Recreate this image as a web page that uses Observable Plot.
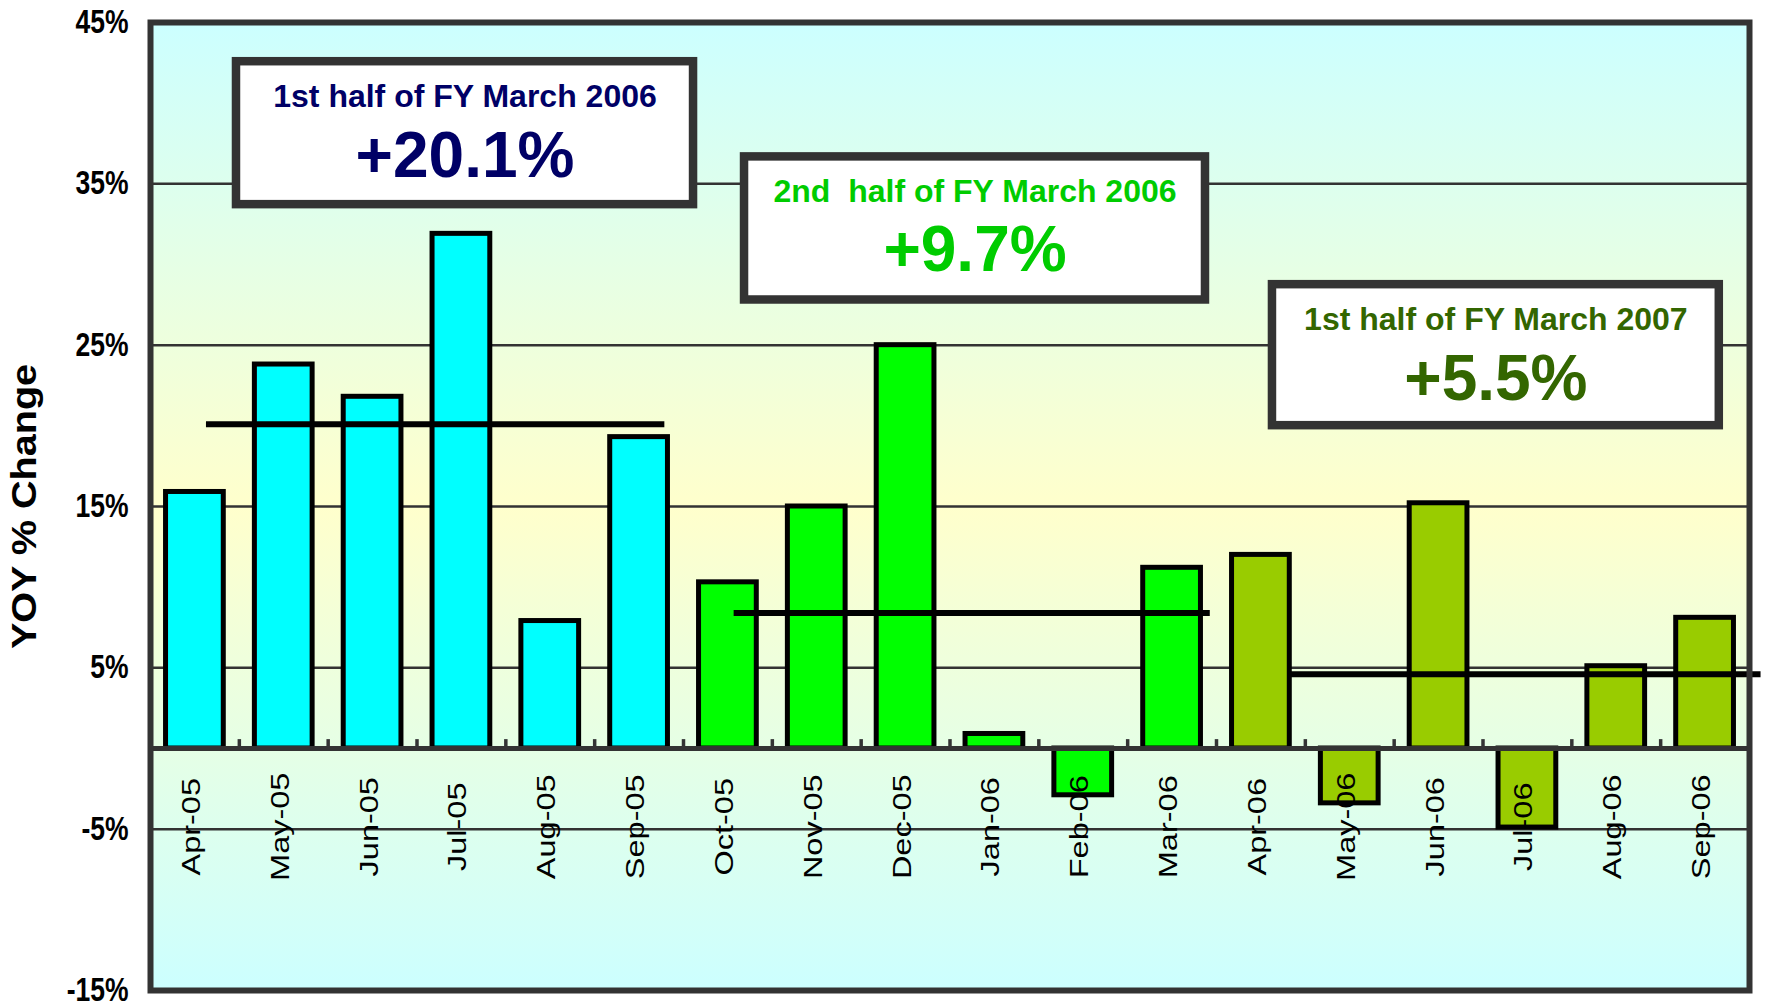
<!DOCTYPE html>
<html><head><meta charset="utf-8">
<script src="https://cdn.jsdelivr.net/npm/d3@7"></script>
<script src="https://cdn.jsdelivr.net/npm/@observablehq/plot@0.6"></script>
<style>
html,body{margin:0;padding:0;background:#fff;}
svg text{white-space:pre;}
</style></head><body><div id="chart"></div>
<script>
// ---- data ----
const months = ["Apr-05","May-05","Jun-05","Jul-05","Aug-05","Sep-05","Oct-05","Nov-05","Dec-05","Jan-06","Feb-06","Mar-06","Apr-06","May-06","Jun-06","Jul-06","Aug-06","Sep-06"];
const yoy = [15.9, 23.8, 21.8, 31.9, 7.9, 19.3, 10.3, 15.0, 25.0, 0.9, -2.9, 11.2, 12.0, -3.4, 15.2, -4.9, 5.1, 8.1];
const halfOf = [0,0,0,0,0,0,1,1,1,1,1,1,2,2,2,2,2,2];
const halfColors = ["#00FFFF", "#00FF00", "#99CC00"];
const avgLevel = [20.1, 8.4, 4.6];
const avgStart = [0.63, 6.57, 12.80];
const avgEnd = [5.79, 11.93, 18.13];
const boxTitles = ["1st half of FY March 2006", "2nd  half of FY March 2006", "1st half of FY March 2007"];
const boxValues = ["+20.1%", "+9.7%", "+5.5%"];
const boxColors = ["#000066", "#00CC00", "#336600"];
const yTicks = [-15, -5, 5, 15, 25, 35, 45];
const yTitle = "YOY % Change";

// ---- annotation layout (data units) ----
const layout = {
  boxX1: [0.968, 6.687, 12.63], boxX2: [6.113, 11.876, 17.66],
  boxTop: [42.57, 36.67, 28.75], boxBottom: [33.71, 27.8, 20.01],
  titleY: [39.78, 33.88, 25.96], valueY: [35.44, 29.6, 21.62],
  xLabelY: -4.85
};

const bars = months.map((m, i) => ({i, month: m, value: yoy[i], half: halfOf[i]}));
const avgs = avgLevel.map((v, k) => ({level: v, start: avgStart[k], end: avgEnd[k]}));
const boxes = boxTitles.map((t, k) => ({
  title: t, value: boxValues[k], color: boxColors[k],
  x1: layout.boxX1[k], x2: layout.boxX2[k], y1: layout.boxBottom[k], y2: layout.boxTop[k],
  cx: (layout.boxX1[k] + layout.boxX2[k]) / 2, ty: layout.titleY[k], vy: layout.valueY[k]
}));

const chart = Plot.plot({
  width: 1766, height: 1004,
  marginLeft: 150, marginRight: 17, marginTop: 22, marginBottom: 14,
  x: {domain: [0, 18], axis: null},
  y: {domain: [-15, 45], axis: null},
  style: {fontFamily: "'Liberation Sans', Arial, sans-serif", background: "white", overflow: "visible"},
  marks: [
    Plot.frame({fill: "url(#bgGrad)"}),
    Plot.ruleY(yTicks.filter(d => d > -15 && d < 45), {stroke: "#333", strokeWidth: 2.5}),
    Plot.ruleX(d3.range(1, 18), {x: d => d, y1: 0, y2: 0.55, stroke: "#333", strokeWidth: 3.5}),
    Plot.rect(bars, {x1: d => d.i + 0.175, x2: d => d.i + 0.825, y1: 0, y2: "value",
      fill: d => halfColors[d.half], stroke: "black", strokeWidth: 5}),
    Plot.ruleY([0], {stroke: "#333", strokeWidth: 5}),
    Plot.ruleY(avgs, {y: "level", x1: "start", x2: "end", stroke: "black", strokeWidth: 6}),
    Plot.rect(boxes, {x1: "x1", x2: "x2", y1: "y1", y2: "y2", fill: "white", stroke: "#333", strokeWidth: 8.5}),
    Plot.text(boxes, {x: "cx", y: "ty", text: "title", fill: d => d.color, fontSize: 32, fontWeight: "bold", lineAnchor: "bottom"}),
    Plot.text(boxes, {x: "cx", y: "vy", text: "value", fill: d => d.color, fontSize: 64, fontWeight: "bold", lineAnchor: "bottom"}),
    Plot.text(bars, {x: d => d.i + 0.5, y: () => layout.xLabelY, text: "month", rotate: -90, fontSize: 25, textAnchor: "middle", dx: -3, fill: "black"}),
    Plot.text(yTicks, {x: () => 0, y: d => d, text: d => d + "%", textAnchor: "end", dx: -22, fontSize: 26.5, fontWeight: "bold", fill: "black"}),
    Plot.text([yTitle], {frameAnchor: "left", dx: -126, rotate: -90, textAnchor: "middle", fontSize: 36, fontWeight: "bold", fill: "black"}),
    Plot.frame({stroke: "#333", strokeWidth: 6})
  ]
});

// gradient background
const defs = d3.select(chart).insert("defs", ":first-child");
const grad = defs.append("linearGradient").attr("id", "bgGrad").attr("x1", 0).attr("y1", 0).attr("x2", 0).attr("y2", 1);
grad.append("stop").attr("offset", "0%").attr("stop-color", "#CCFFFF");
grad.append("stop").attr("offset", "50%").attr("stop-color", "#FFFFCC");
grad.append("stop").attr("offset", "100%").attr("stop-color", "#CCFFFF");

// vertical stretch of axis texts (as in the original rendering)
function stretch(el, sy) {
  let tx = 0, ty = 0;
  for (const a of ["x", "y"]) {
    const v = el.getAttribute(a);
    if (v != null && !/em$/.test(v) && isFinite(+v)) {
      if (a === "x") tx += +v; else ty += +v;
      el.removeAttribute(a);
    }
  }
  const t = el.getAttribute("transform") || "";
  const m = t.match(/translate\(([^,\s)]+)[,\s]+([^)]+)\)/);
  let rest = t;
  if (m) { tx += +m[1]; ty += +m[2]; rest = t.replace(m[0], ""); }
  el.setAttribute("transform", `translate(${tx},${ty}) scale(1,${sy}) ${rest}`.trim());
}
d3.select(chart).selectAll("text").each(function() {
  const s = this.textContent;
  let sy = null;
  if (/^-?\d+%$/.test(s)) sy = 1.22;
  else if (/^[A-Z][a-z]{2}-\d\d$/.test(s)) sy = 1.3;
  else if (s === yTitle) sy = 1.1;
  if (sy) stretch(this, sy);
});

document.getElementById("chart").appendChild(chart);
</script></body></html>
